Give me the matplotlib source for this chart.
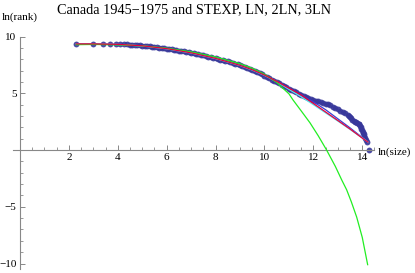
"""
Canada 1945-1975 rank-size with STEXP, LN, 2LN, 3LN fits
"""
import numpy as np
import matplotlib
matplotlib.use('Agg')
import matplotlib.pyplot as plt
from matplotlib.ticker import MultipleLocator, FixedLocator

plt.rcParams['font.family'] = ['Liberation Serif', 'DejaVu Serif']
plt.rcParams['axes.unicode_minus'] = True

# empirical points: ln(size), ln(rank)
ln_size = [2.30, 3.00, 3.40, 3.69, 3.91, 4.09, 4.25, 4.38,
           4.5, 4.6, 4.7, 4.8, 4.9, 5.0, 5.1, 5.2, 5.3, 5.4, 5.5, 5.6, 5.7,
           5.8, 5.9, 6.0, 6.1, 6.2, 6.3, 6.4, 6.5, 6.6, 6.7, 6.8, 6.9, 7.0,
           7.1, 7.2, 7.3, 7.4, 7.5, 7.6, 7.7, 7.8, 7.9, 8.0, 8.1, 8.2, 8.3,
           8.4, 8.5, 8.6, 8.7, 8.8, 8.9, 9.0, 9.1, 9.2, 9.3, 9.4, 9.5, 9.6,
           9.7, 9.8, 9.9, 10.0, 10.1, 10.2, 10.3, 10.4, 10.5, 10.6, 10.7,
           10.8, 10.9, 11.0, 11.1, 11.2, 11.3, 11.4, 11.5, 11.6, 11.7, 11.8,
           11.9, 12.0, 12.1, 12.2, 12.3, 12.4, 12.5, 12.6, 12.7, 12.8, 12.9,
           13.0, 13.1, 13.2, 13.3, 13.4, 13.45, 13.5, 13.55, 13.6, 13.65,
           13.7, 13.75, 13.8, 13.85, 13.88, 13.91, 13.93, 13.96, 13.98,
           14.01, 14.03, 14.06, 14.08, 14.12, 14.16, 14.20, 14.28]
ln_rank = [9.37, 9.36, 9.35, 9.34, 9.33, 9.32, 9.31, 9.30,
           9.29, 9.27, 9.26, 9.24, 9.22, 9.20, 9.18, 9.16, 9.13, 9.11, 9.08,
           9.05, 9.02, 8.99, 8.96, 8.93, 8.90, 8.86, 8.83, 8.79, 8.76, 8.72,
           8.68, 8.64, 8.60, 8.56, 8.52, 8.47, 8.43, 8.38, 8.33, 8.28, 8.23,
           8.18, 8.13, 8.08, 8.03, 7.97, 7.92, 7.86, 7.80, 7.74, 7.68, 7.61,
           7.55, 7.48, 7.40, 7.32, 7.23, 7.14, 7.05, 6.95, 6.86, 6.76, 6.66,
           6.55, 6.44, 6.32, 6.21, 6.09, 5.97, 5.86, 5.74, 5.63, 5.51, 5.40,
           5.29, 5.18, 5.07, 4.97, 4.87, 4.77, 4.67, 4.58, 4.50, 4.42, 4.35,
           4.29, 4.23, 4.16, 4.09, 4.02, 3.93, 3.82, 3.70, 3.58, 3.45, 3.33,
           3.22, 3.10, 3.03, 2.95, 2.80, 2.66, 2.56, 2.48, 2.43, 2.38, 2.31,
           2.25, 2.12, 2.00, 1.87, 1.75, 1.62, 1.50, 1.37, 1.25, 1.10, 0.90,
           0.69, 0.00]

# fitted curves
fit_x = [2.30, 3.0, 4.0, 5.0, 6.0, 7.0, 8.0, 9.0, 9.5, 10.0, 10.5,
         11.0, 11.5, 12.0, 12.5, 13.0, 13.5, 14.0, 14.23]
ln_fit = [9.35, 9.34, 9.30, 9.17, 8.92, 8.55, 8.06, 7.45, 7.05, 6.58, 6.02,
          5.35, 4.70, 4.00, 3.28, 2.56, 1.82, 1.07, 0.70]
ln2_fit = [9.35, 9.35, 9.31, 9.18, 8.93, 8.56, 8.07, 7.46, 7.07, 6.60, 6.05,
           5.45, 4.85, 4.10, 3.35, 2.60, 1.85, 1.05, 0.70]
ln3_fit = [9.36, 9.35, 9.31, 9.19, 8.94, 8.57, 8.08, 7.47, 7.07, 6.58, 6.00,
           5.42, 4.85, 4.25, 3.55, 2.75, 1.95, 1.10, 0.72]

stexp_x = [2.30, 3.0, 4.0, 5.0, 6.0, 7.0, 8.0, 9.0, 9.5, 10.0, 10.5, 11.0,
           11.17, 11.5, 11.86, 12.2, 12.54, 12.9, 13.16, 13.36, 13.55,
           13.77, 14.0, 14.22]
stexp_y = [9.28, 9.30, 9.27, 9.18, 8.97, 8.65, 8.20, 7.60, 7.20, 6.68, 5.95,
           4.95, 4.40, 3.45, 2.40, 1.25, 0.0, -1.45, -2.64, -3.50, -4.55,
           -5.90, -7.70, -10.10]

fig = plt.figure(figsize=(4.15, 2.73), dpi=100, facecolor='w')
ax = fig.add_axes([0.0306, 0.0139, 0.8718, 0.8524])

ax.plot(ln_size, ln_rank, 'o', color='#37379a', markersize=4.2,
        markeredgewidth=0, alpha=0.9, zorder=2)
ax.plot(fit_x, ln3_fit, color='#3d3dd0', lw=0.9, zorder=3)
ax.plot(fit_x, ln_fit, color='#55e6f0', lw=1.0, zorder=3)
ax.plot(stexp_x, stexp_y, color='#22ee22', lw=0.9, zorder=4)
ax.plot(fit_x, ln2_fit, color='#e8003c', lw=0.9, zorder=5)

ax.set_xlim(-0.3, 14.5)
ax.set_ylim(-10.5, 10.0)

# mathematica style axes crossing at origin
for s in ['top', 'right']:
    ax.spines[s].set_visible(False)
ax.spines['left'].set_position(('data', 0))
ax.spines['bottom'].set_position(('data', 0))
for s in ['left', 'bottom']:
    ax.spines[s].set_color('#888888')
    ax.spines[s].set_linewidth(0.8)

ax.xaxis.set_major_locator(FixedLocator([2, 4, 6, 8, 10, 12, 14]))
ax.xaxis.set_minor_locator(MultipleLocator(0.5))
ax.yaxis.set_major_locator(FixedLocator([-10, -5, 5, 10]))
ax.yaxis.set_minor_locator(MultipleLocator(1))
ax.set_yticklabels(['\u221210', '\u22125', '5', '10'])
ax.tick_params(which='both', direction='in', color='#888888', labelsize=8)
ax.tick_params(which='major', length=3.4, width=0.7, pad=2.5)
ax.tick_params(which='minor', length=1.9, width=0.6)

fig.text(193.6 / 415, 1 - 10 / 273, 'Canada 1945\u22121975 and STEXP, LN, 2LN, 3LN',
         ha='center', va='center', fontsize=10.3)
fig.text(20 / 415, 1 - 17 / 273, 'ln(rank)', ha='center', va='center', fontsize=8)
fig.text(378 / 415, 1 - 152 / 273, 'ln(size)', ha='left', va='center', fontsize=8)

plt.savefig('out.png', dpi=100)
